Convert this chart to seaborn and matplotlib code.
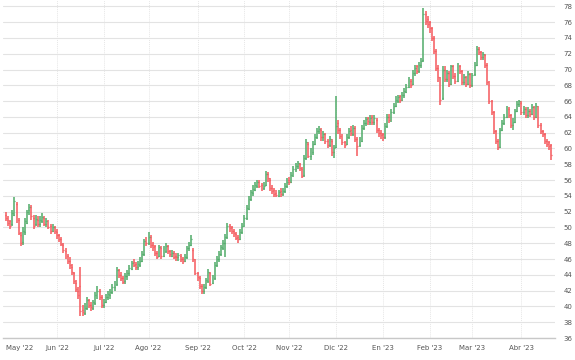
import pandas as pd
import matplotlib
matplotlib.use("Agg")
import matplotlib.pyplot as plt
import seaborn as sns

# ------------------------------------------------------------------
# Datos diarios (OHLC), 28-abr-2022 a 21-abr-2023
# ------------------------------------------------------------------
apertura = [
    51.6, 51.0, 50.8, 50.4, 51.6, 53.0, 51.0, 49.0, 48.2, 49.4,
    50.6, 52.2, 52.6, 51.2, 50.4, 51.0, 50.4, 50.8, 51.2, 50.4,
    50.8, 50.2, 49.6, 50.0, 49.4, 49.0, 48.6, 47.8, 47.0, 46.4,
    45.8, 45.0, 44.2, 43.0, 42.0, 42.6, 39.6, 39.2, 39.8, 40.8,
    40.2, 39.8, 40.4, 41.4, 42.0, 41.2, 40.2, 40.6, 41.2, 41.4,
    41.8, 42.4, 42.8, 44.6, 44.0, 43.6, 43.2, 43.8, 44.2, 44.8,
    45.6, 45.4, 45.0, 45.2, 45.8, 46.6, 48.4, 48.0, 48.8, 47.8,
    47.6, 46.8, 46.4, 47.4, 46.4, 47.0, 47.6, 47.0, 46.4, 46.8,
    46.4, 46.2, 46.4, 46.0, 45.8, 46.2, 47.4, 47.8, 47.2, 45.8,
    44.2, 43.6, 42.6, 42.0, 42.4, 43.2, 44.2, 43.0, 43.6, 45.2,
    46.0, 46.6, 47.4, 48.0, 48.8, 50.2, 50.0, 49.6, 49.2, 48.8,
    48.6, 49.4, 50.2, 51.2, 52.4, 53.6, 54.4, 54.8, 55.2, 55.8,
    55.4, 55.0, 55.4, 56.8, 56.0, 55.0, 54.8, 54.4, 54.0, 54.6,
    54.2, 54.6, 55.2, 56.0, 55.8, 56.6, 57.4, 57.8, 58.0, 57.4,
    56.6, 58.8, 60.6, 59.0, 59.6, 60.6, 61.4, 62.2, 62.4, 61.4,
    61.8, 61.0, 60.4, 61.0, 59.6, 60.2, 63.2, 62.4, 61.6, 60.8,
    60.6, 61.4, 62.4, 61.8, 62.6, 61.2, 60.4, 61.0, 62.6, 63.2,
    63.8, 63.4, 64.0, 63.4, 63.6, 62.4, 62.0, 61.8, 61.4, 62.8,
    64.0, 63.6, 64.6, 65.4, 66.0, 66.6, 66.2, 66.8, 67.2, 67.8,
    68.6, 68.2, 69.6, 70.4, 69.8, 70.6, 71.2, 77.0, 76.4, 76.0,
    75.2, 74.0, 72.4, 70.2, 68.8, 66.4, 70.0, 68.8, 69.6, 68.2,
    70.4, 69.2, 68.6, 70.4, 69.8, 68.4, 69.0, 68.2, 69.4, 68.0,
    69.4, 70.6, 72.6, 72.2, 71.6, 71.8, 70.6, 68.4, 66.0, 64.6,
    62.2, 61.0, 60.2, 62.4, 63.2, 64.0, 65.0, 64.2, 63.0, 63.4,
    64.8, 65.6, 65.8, 64.6, 65.0, 64.2, 64.8, 64.4, 65.2, 64.0,
    65.2, 63.0, 62.2, 61.8, 61.0, 60.8, 60.4,
]
maximo = [
    52.0, 51.4, 51.0, 52.2, 53.8, 53.2, 51.2, 49.4, 50.0, 51.2,
    52.2, 53.0, 52.8, 51.6, 51.6, 51.4, 51.4, 51.8, 51.4, 51.2,
    51.0, 50.4, 50.4, 50.2, 49.8, 49.2, 48.8, 48.0, 47.4, 46.6,
    46.2, 45.4, 44.4, 43.4, 42.4, 45.0, 40.2, 40.4, 41.2, 41.0,
    40.6, 40.8, 41.8, 42.6, 42.2, 41.4, 41.0, 41.6, 42.0, 42.2,
    42.8, 43.2, 45.0, 44.8, 44.4, 43.8, 44.2, 44.6, 45.2, 45.8,
    46.0, 45.6, 45.8, 46.2, 47.0, 48.6, 48.8, 49.4, 49.0, 48.2,
    47.8, 47.0, 47.8, 47.6, 47.6, 48.0, 47.8, 47.2, 47.2, 47.0,
    46.8, 46.8, 46.6, 46.2, 46.6, 47.6, 48.2, 49.0, 47.4, 46.0,
    44.4, 43.8, 42.8, 42.8, 43.6, 44.8, 44.4, 44.0, 45.6, 46.4,
    47.0, 47.8, 48.4, 49.2, 50.6, 50.4, 50.2, 49.8, 49.4, 49.0,
    49.8, 50.6, 51.6, 52.8, 54.0, 54.8, 55.4, 55.8, 56.0, 56.0,
    55.6, 55.8, 57.2, 57.0, 56.2, 55.4, 55.0, 54.8, 54.8, 55.0,
    55.0, 55.6, 56.2, 56.4, 57.0, 57.8, 58.2, 58.4, 58.2, 57.6,
    59.2, 61.2, 60.8, 60.0, 61.0, 61.8, 62.6, 62.8, 62.6, 62.2,
    62.0, 61.2, 61.6, 61.2, 60.4, 66.6, 63.6, 62.6, 61.8, 61.0,
    61.8, 62.6, 62.8, 63.0, 62.8, 61.4, 61.4, 63.0, 63.6, 64.0,
    64.0, 64.2, 64.2, 64.2, 63.8, 62.6, 62.4, 62.0, 63.2, 64.4,
    64.4, 65.0, 65.8, 66.6, 66.8, 66.8, 67.2, 67.6, 68.2, 69.0,
    68.8, 70.0, 70.6, 70.6, 71.0, 71.4, 77.8, 77.4, 76.8, 76.2,
    75.4, 74.2, 72.6, 70.6, 69.0, 70.4, 70.4, 70.0, 69.8, 70.6,
    70.6, 69.6, 70.8, 70.6, 70.0, 69.4, 69.2, 69.8, 69.6, 69.6,
    71.0, 73.0, 72.8, 72.4, 72.2, 72.0, 70.8, 68.6, 66.2, 64.8,
    62.4, 61.2, 62.6, 63.6, 64.4, 65.4, 65.2, 64.4, 63.8, 65.0,
    66.0, 66.2, 66.0, 65.4, 65.2, 65.2, 65.0, 65.6, 65.4, 65.8,
    65.4, 63.2, 62.4, 62.0, 61.2, 61.0, 60.6,
]
minimo = [
    50.8, 50.2, 49.8, 50.2, 51.4, 50.6, 49.0, 47.6, 47.8, 49.0,
    50.4, 51.6, 51.0, 49.8, 50.2, 50.0, 50.0, 50.6, 50.2, 50.0,
    49.8, 49.2, 49.4, 49.2, 48.6, 48.2, 47.6, 46.8, 46.0, 45.4,
    44.8, 44.0, 42.8, 41.8, 41.0, 38.8, 38.8, 38.9, 39.6, 39.8,
    39.4, 39.6, 40.2, 41.0, 40.8, 39.8, 39.8, 40.4, 40.8, 41.0,
    41.6, 42.0, 42.6, 43.6, 43.2, 42.8, 42.9, 43.4, 43.8, 44.6,
    45.0, 44.6, 44.6, 45.0, 45.6, 46.4, 47.6, 47.8, 47.4, 47.0,
    46.4, 46.0, 46.2, 46.0, 46.2, 46.8, 46.6, 46.2, 46.2, 46.0,
    45.8, 45.8, 45.6, 45.4, 45.6, 46.0, 47.0, 47.6, 45.6, 44.0,
    43.2, 42.2, 41.6, 41.6, 42.2, 43.0, 42.6, 42.8, 43.4, 45.0,
    45.6, 46.4, 47.2, 46.2, 48.6, 49.4, 49.2, 48.8, 48.4, 48.0,
    48.4, 49.2, 50.0, 51.0, 52.2, 53.4, 54.0, 54.6, 55.0, 55.0,
    54.6, 54.8, 55.2, 55.8, 54.6, 54.2, 53.8, 53.8, 53.8, 53.8,
    54.0, 54.4, 55.0, 55.4, 55.6, 56.4, 57.0, 57.4, 57.2, 56.2,
    56.4, 58.6, 58.8, 58.6, 59.2, 60.4, 61.2, 61.8, 61.0, 61.0,
    60.6, 60.0, 60.2, 59.0, 58.8, 60.0, 61.8, 61.2, 60.4, 60.0,
    60.4, 61.2, 61.6, 61.6, 60.8, 59.0, 60.2, 60.8, 62.4, 62.8,
    63.0, 63.0, 63.0, 63.0, 62.0, 61.4, 61.2, 61.0, 61.2, 62.6,
    63.2, 63.4, 64.4, 65.2, 65.8, 65.8, 66.0, 66.4, 67.0, 67.6,
    67.6, 68.0, 69.2, 69.4, 69.6, 70.2, 71.0, 75.6, 75.2, 74.6,
    73.6, 72.0, 69.8, 68.4, 65.5, 66.2, 68.4, 68.4, 67.8, 68.0,
    68.8, 68.2, 68.4, 69.4, 68.0, 68.0, 67.8, 68.0, 67.6, 67.8,
    69.2, 70.4, 71.8, 71.2, 71.2, 70.2, 68.0, 65.6, 64.2, 61.8,
    60.6, 59.8, 60.0, 62.2, 63.0, 63.8, 63.8, 62.6, 62.4, 63.2,
    64.6, 65.2, 64.2, 64.2, 63.8, 63.8, 64.0, 64.2, 63.6, 63.8,
    62.6, 61.8, 61.4, 60.6, 60.2, 59.8, 58.6,
]
cierre = [
    51.2, 50.6, 50.2, 51.8, 53.4, 51.0, 49.3, 48.0, 49.6, 50.8,
    51.9, 52.6, 51.4, 50.2, 51.1, 50.4, 50.9, 51.3, 50.5, 50.8,
    50.1, 49.6, 50.0, 49.5, 49.0, 48.6, 47.9, 47.1, 46.4, 45.8,
    45.2, 44.4, 43.2, 42.2, 41.4, 39.4, 39.3, 39.8, 40.8, 40.2,
    39.9, 40.5, 41.4, 42.0, 41.2, 40.2, 40.6, 41.2, 41.6, 41.8,
    42.4, 42.8, 44.6, 44.0, 43.6, 43.1, 43.8, 44.2, 44.9, 45.5,
    45.3, 45.0, 45.4, 45.8, 46.6, 48.3, 48.0, 48.8, 47.8, 47.5,
    46.8, 46.3, 47.5, 46.4, 47.2, 47.6, 47.0, 46.6, 46.8, 46.3,
    46.2, 46.5, 46.0, 45.8, 46.2, 47.4, 47.8, 48.6, 46.0, 44.2,
    43.7, 42.6, 42.0, 42.4, 43.3, 44.4, 42.9, 43.6, 45.2, 46.0,
    46.7, 47.5, 48.0, 48.8, 50.2, 49.9, 49.6, 49.3, 48.7, 48.5,
    49.4, 50.2, 51.2, 52.5, 53.6, 54.5, 54.9, 55.4, 55.7, 55.3,
    55.0, 55.3, 56.8, 56.2, 55.0, 54.6, 54.3, 54.1, 54.5, 54.2,
    54.6, 55.3, 55.8, 55.7, 56.6, 57.4, 57.8, 58.1, 57.5, 56.5,
    58.8, 60.8, 59.0, 59.5, 60.6, 61.5, 62.2, 62.5, 61.4, 61.8,
    61.0, 60.4, 61.2, 59.5, 60.0, 62.8, 62.4, 61.6, 60.8, 60.5,
    61.4, 62.2, 61.9, 62.6, 61.2, 60.3, 61.0, 62.6, 63.2, 63.7,
    63.5, 63.9, 63.4, 63.8, 62.4, 61.9, 61.7, 61.4, 62.8, 64.0,
    63.6, 64.6, 65.4, 66.1, 66.5, 66.2, 66.8, 67.3, 67.8, 68.4,
    68.0, 69.6, 70.2, 69.8, 70.6, 71.1, 77.0, 76.2, 75.8, 75.2,
    74.0, 72.4, 70.2, 69.0, 66.2, 70.0, 68.8, 69.6, 68.2, 70.4,
    69.2, 68.6, 70.5, 69.8, 68.4, 69.0, 68.2, 69.4, 68.0, 69.3,
    70.6, 72.6, 72.2, 71.6, 71.9, 70.6, 68.4, 66.0, 64.6, 62.2,
    61.0, 60.2, 62.4, 63.2, 64.0, 65.1, 64.2, 63.0, 63.4, 64.8,
    65.6, 66.0, 64.6, 65.0, 64.2, 64.8, 64.4, 65.2, 64.0, 65.4,
    63.0, 62.2, 61.8, 61.0, 60.6, 60.3, 59.2,
]

meses = ["May '22", "Jun '22", "Jul '22", "Ago '22", "Sep '22", "Oct '22",
         "Nov '22", "Dic '22", "En '23", "Feb '23", "Mar '23", "Abr '23"]
ticks_y = list(range(36, 80, 2))

verde = "#4fab68"
rojo = "#f5585c"

df = pd.DataFrame({"open": apertura, "high": maximo, "low": minimo, "close": cierre})
df["fecha"] = pd.bdate_range("2022-04-28", periods=len(df))
df["x"] = range(len(df))
df["color"] = [verde if c >= o else rojo for o, c in zip(df["open"], df["close"])]

# primer dia habil de cada mes -> posicion de la etiqueta
inicio_mes = list(df.groupby(df["fecha"].dt.to_period("M"))["x"].min().iloc[1:])
inicio_mes[0] = 0  # la etiqueta de mayo va pegada al borde izquierdo

sns.set_style("white")
plt.rcParams["font.family"] = ["DejaVu Sans"]

fig = plt.figure(figsize=(5.75, 3.6), dpi=100)
ax = fig.add_axes([0.005, 0.061, 0.96, 0.939])

ax.vlines(df["x"], df["low"], df["high"], colors=df["color"], linewidth=1.1)
ax.hlines(df["open"], df["x"] - 0.45, df["x"], colors=df["color"], linewidth=0.9)
ax.hlines(df["close"], df["x"], df["x"] + 0.45, colors=df["color"], linewidth=0.9)

ax.set_xlim(-1.4, 257.7)
ax.set_ylim(36, 78.8)
ax.set_yticks(ticks_y)
ax.set_xticks(inicio_mes)
ax.set_xticklabels(meses)
ax.get_xticklabels()[0].set_horizontalalignment("left")

ax.yaxis.tick_right()
ax.grid(True, axis="y", color="#e3e3e3", linewidth=0.8)
ax.grid(True, axis="x", color="#e6e6e6", linewidth=0.7, linestyle=(0, (1, 1)))
ax.xaxis.get_gridlines()[0].set_visible(False)
ax.set_axisbelow(True)
ax.tick_params(axis="both", length=0, labelsize=5, colors="#555555")
ax.tick_params(axis="y", pad=6)
ax.tick_params(axis="x", pad=5)
for lado in ["top", "left", "right"]:
    ax.spines[lado].set_visible(False)
ax.spines["bottom"].set_color("#c8c8c8")
ax.spines["bottom"].set_linewidth(1.0)

fig.savefig("out.png", dpi=100)
